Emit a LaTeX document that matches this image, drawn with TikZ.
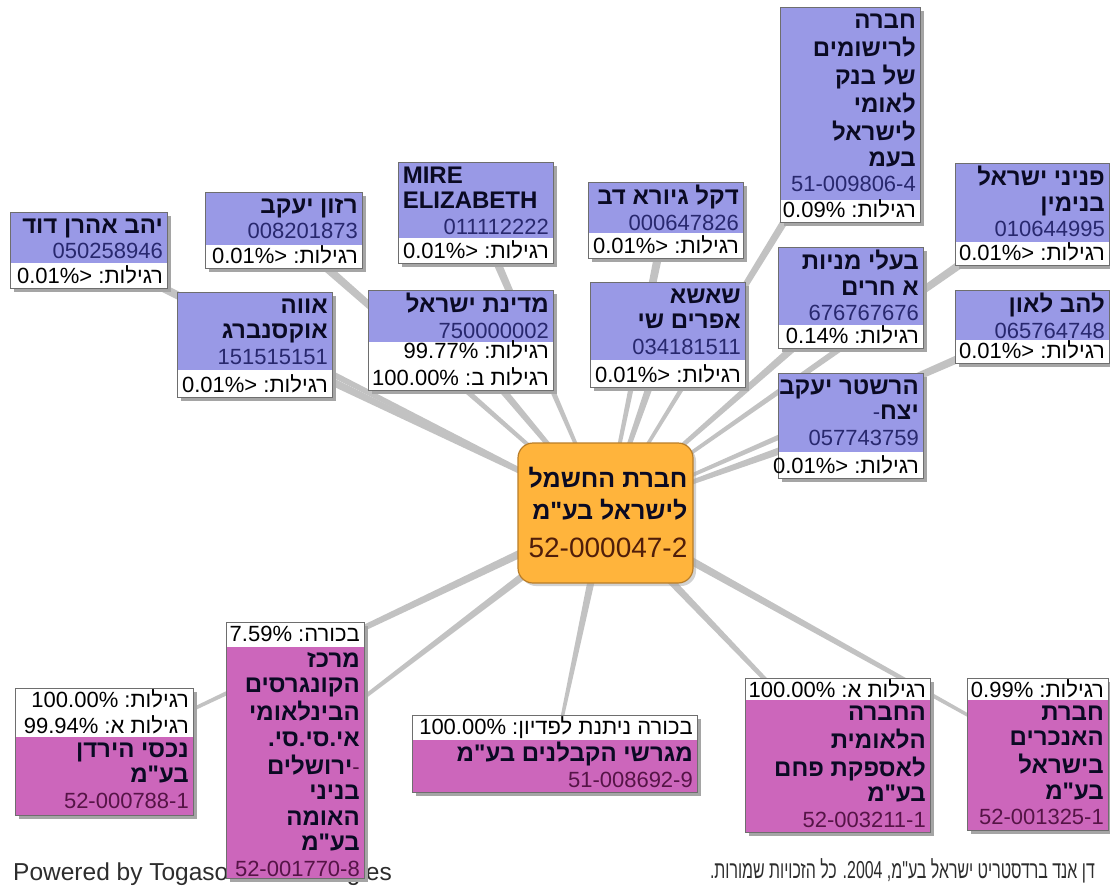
\documentclass[tikz,border=0pt]{standalone}
\usepackage{fontspec}
\setmainfont{Liberation Sans}
\newfontfamily\hebfont[Script=Hebrew]{Liberation Sans}
\TeXXeTstate=1
\usetikzlibrary{positioning,calc,fit,backgrounds,shadows}

\definecolor{holderfill}{RGB}{153,153,230}
\definecolor{holdingfill}{RGB}{204,102,187}
\definecolor{corefill}{RGB}{255,180,60}
\definecolor{coreline}{RGB}{185,125,40}
\definecolor{boxedge}{RGB}{110,110,110}
\definecolor{shade}{RGB}{165,165,165}
\definecolor{linkgrey}{RGB}{194,194,194}
\definecolor{nameink}{RGB}{10,10,35}
\definecolor{holderid}{RGB}{40,40,110}
\definecolor{holdingid}{RGB}{85,20,70}
\definecolor{coreid}{RGB}{80,30,10}
\definecolor{footink}{RGB}{45,45,45}

\newcommand\heb[1]{{\hebfont\beginR #1\endR}}
\newcommand\nm[1]{{\color{nameink}\fontsize{24}{25.5}\selectfont\bfseries\strut\heb{#1}}}
\newcommand\latnm[1]{\makebox[146pt][l]{\color{nameink}\fontsize{24}{25.5}\selectfont\bfseries\strut #1}}
\newcommand\regno[1]{\strut #1}
\newcommand\pc[2]{\strut #1 :\heb{#2}}

%% one share: wide at the owner, thin at the owned firm
\newcommand\stake[2]{\fill[link] ($(#1)!4.5pt!90:(#2)$) -- ($(#2)!1.2pt!-90:(#1)$)
  -- ($(#2)!1.2pt!90:(#1)$) -- ($(#1)!4.5pt!-90:(#2)$) -- cycle;}

\tikzset{
  link/.style={fill=linkgrey},
  boxline/.style={draw=boxedge, line width=0.8pt},
  boxshade/.style={fill=shade},
  frame/.style={inner sep=0pt},
  boxtext/.style={inner sep=0pt, align=right, font=\fontsize{22}{25.5}\selectfont},
  core/.style={minimum width=175pt, minimum height=140pt, rounded corners=15pt,
    fill=corefill, draw=coreline, line width=1.2pt,
    drop shadow={shadow xshift=3pt, shadow yshift=-3pt, fill=shade}},
  corename/.style={inner sep=0pt, align=right, text=nameink,
    font=\fontsize{25}{32}\selectfont\bfseries},
  corenum/.style={inner sep=0pt, text=coreid, font=\fontsize{28}{32}\selectfont},
  foot/.style={inner sep=0pt, text=footink, font=\fontsize{24.5}{28}\selectfont}
}

%% holder: name part on top, share part below
\newcommand\holder[8]{%
  \fill[boxshade] (#2+4,#3+4) rectangle (#4+4,#5+4);
  \node[frame, fit={(#2,#3) (#4,#5)}] (#1) {};
  \fill[white] (#2,#3) rectangle (#4,#5);
  \fill[holderfill] (#2,#3) rectangle (#4,#6);
  \draw[boxline] (#2,#3) rectangle (#4,#5);
  \node[boxtext, text=holderid, anchor=north east] (#1-name) at (#4-4,#3+3) {#7};
  \node[boxtext, anchor=south east] (#1-share) at (#4-4,#5+3) {#8};
}
%% holding: share part on top, name part below
\newcommand\holding[8]{%
  \fill[boxshade] (#2+4,#3+4) rectangle (#4+4,#5+4);
  \node[frame, fit={(#2,#3) (#4,#5)}] (#1) {};
  \fill[white] (#2,#3) rectangle (#4,#5);
  \fill[holdingfill] (#2,#6) rectangle (#4,#5);
  \draw[boxline] (#2,#3) rectangle (#4,#5);
  \node[boxtext, anchor=north east] (#1-share) at (#4-4,#3+1) {#7};
  \node[boxtext, text=holdingid, anchor=north east] (#1-name) at (#4-4,#6+2) {#8};
}

\begin{document}
\begin{tikzpicture}[x=1pt, y=-1pt]
\useasboundingbox (0,0) rectangle (1110,887);

%% footer
\node[foot, anchor=base west] (powered) at (13,880) {Powered by Togasoft Technologies};
\node[foot, anchor=base east] (rights) at (1095,878)
{\scalebox{0.65}[1]{\heb{דן אנד ברדסטריט ישראל בע"מ, \beginL 2004\endL. כל הזכויות שמורות.}}};

%% holders
\holder{yahav}{10}{212}{167}{288}{263}
{\nm{יהב אהרן דוד}\\\regno{050258946}}
{\pc{0.01\%>}{רגילות}}
\holder{razon}{205}{192}{362}{268}{245}
{\nm{רזון יעקב}\\\regno{008201873}}
{\pc{0.01\%>}{רגילות}}
\holder{ava}{177}{292}{332}{397}{370}
{\nm{אווה}\\\nm{אוקסנברג}\\\regno{151515151}}
{\pc{0.01\%>}{רגילות}}
\holder{mire}{398}{162}{553}{263}{238}
{\latnm{MIRE}\\\latnm{ELIZABETH}\\\regno{011112222}}
{\pc{0.01\%>}{רגילות}}
\holder{medina}{368}{290}{553}{390}{342}
{\nm{מדינת ישראל}\\\regno{750000002}}
{\pc{99.77\%}{רגילות}\\\pc{100.00\%}{רגילות ב}}
\holder{dekel}{588}{182}{743}{258}{233}
{\nm{דקל גיורא דב}\\\regno{000647826}}
{\pc{0.01\%>}{רגילות}}
\holder{shasha}{590}{282}{745}{387}{360}
{\nm{שאשא}\\\nm{אפרים שי}\\\regno{034181511}}
{\pc{0.01\%>}{רגילות}}
\holder{rishumim}{780}{7}{920}{222}{200}
{\nm{חברה}\\\nm{לרישומים}\\\nm{של בנק}\\\nm{לאומי}\\\nm{לישראל}\\\nm{בעמ}\\\regno{51-009806-4}}
{\pc{0.09\%}{רגילות}}
\holder{baalei}{778}{247}{923}{348}{325}
{\nm{בעלי מניות}\\\nm{א חרים}\\\regno{676767676}}
{\pc{0.14\%}{רגילות}}
\holder{hershter}{778}{373}{923}{478}{452}
{\nm{הרשטר יעקב}\\{-\nm{יצח}}\\\regno{057743759}}
{\pc{0.01\%>}{רגילות}}
\holder{pnini}{955}{163}{1109}{265}{242}
{\nm{פניני ישראל}\\\nm{בנימין}\\\regno{010644995}}
{\pc{0.01\%>}{רגילות}}
\holder{lahav}{955}{290}{1109}{363}{340}
{\nm{להב לאון}\\\regno{065764748}}
{\pc{0.01\%>}{רגילות}}

%% holdings
\holding{nechasei}{15}{688}{193}{815}{737}
{\pc{100.00\%}{רגילות}\\\pc{99.94\%}{רגילות א}}
{\nm{נכסי הירדן}\\\nm{בע"מ}\\\regno{52-000788-1}}
\holding{merkaz}{226}{622}{364}{878}{647}
{\pc{7.59\%}{בכורה}}
{\nm{מרכז}\\\nm{הקונגרסים}\\\nm{הבינלאומי}\\\nm{אי.סי.סי.}\\{\nm{ירושלים}-}\\\nm{בניני}\\\nm{האומה}\\\nm{בע"מ}\\\regno{52-001770-8}}
\holding{migrashei}{412}{715}{697}{792}{740}
{\pc{100.00\%}{בכורה ניתנת לפדיון}}
{\nm{מגרשי הקבלנים בע"מ}\\\regno{51-008692-9}}
\holding{leumit}{745}{678}{930}{832}{700}
{\pc{100.00\%}{רגילות א}}
{\nm{החברה}\\\nm{הלאומית}\\\nm{לאספקת פחם}\\\nm{בע"מ}\\\regno{52-003211-1}}
\holding{oniyot}{967}{678}{1108}{830}{700}
{\pc{0.99\%}{רגילות}}
{\nm{חברת}\\\nm{האנכרים}\\\nm{בישראל}\\\nm{בע"מ}\\\regno{52-001325-1}}

%% the company itself
\node[core] (hevra) at (605.5,513) {};
\node[corename, anchor=north east] (hevra-name) at ([xshift=-6pt,yshift=-22pt]hevra.north east)
{\strut\heb{חברת החשמל}\\\strut\heb{לישראל בע"מ}};
\node[corenum, anchor=base east] (hevra-no) at ([xshift=-6pt,yshift=26pt]hevra.south east) {52-000047-2};

%% shares
\begin{scope}[on background layer]
\foreach \o in {yahav,razon,ava,mire,medina,dekel,shasha,rishumim,baalei,hershter,pnini,lahav}
  \stake{\o}{hevra};
\foreach \h in {nechasei,merkaz,migrashei,leumit,oniyot}
  \stake{hevra}{\h};
\end{scope}

\end{tikzpicture}
\end{document}
